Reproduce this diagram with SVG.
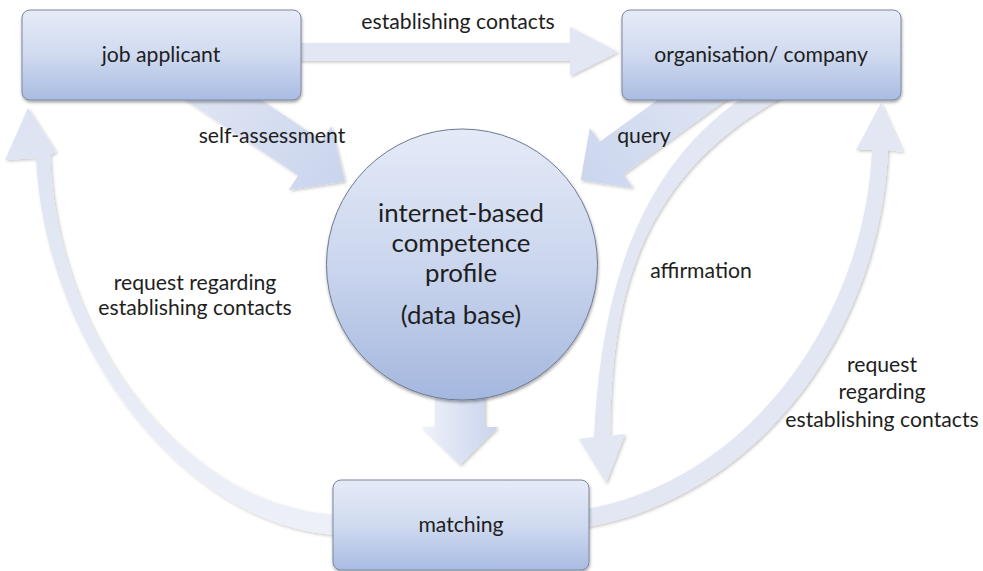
<svg xmlns="http://www.w3.org/2000/svg" width="983" height="571" viewBox="0 0 983 571">
  <defs>
    <style>
      .box { fill: url(#boxFill); stroke: #7b879e; stroke-width: 1; filter: url(#shadow); }
      .arrow { filter: url(#softShadow); }
      .plain { fill: #e2e7f3; }
      text { font-family: Lato, "Open Sans", "Liberation Sans", sans-serif; fill: #1e1e1e; text-anchor: middle; }
      .node { font-size: 21.2px; }
      .big { font-size: 25.8px; }
      .lbl { font-size: 21.2px; }
    </style>
    <linearGradient id="boxFill" x1="0" y1="0" x2="0" y2="1">
      <stop offset="0" stop-color="#e6ebf7"/>
      <stop offset="0.5" stop-color="#d0daf0"/>
      <stop offset="1" stop-color="#a9bce2"/>
    </linearGradient>
    <linearGradient id="circleFill" x1="0" y1="0" x2="0" y2="1">
      <stop offset="0" stop-color="#e4eaf7"/>
      <stop offset="0.5" stop-color="#cbd6ee"/>
      <stop offset="1" stop-color="#a4b7de"/>
    </linearGradient>
    <linearGradient id="selfFill" gradientUnits="userSpaceOnUse" x1="200" y1="80" x2="340" y2="180">
      <stop offset="0" stop-color="#dfe5f3"/>
      <stop offset="1" stop-color="#cad5ed"/>
    </linearGradient>
    <linearGradient id="queryFill" gradientUnits="userSpaceOnUse" x1="720" y1="80" x2="585" y2="180">
      <stop offset="0" stop-color="#dfe5f3"/>
      <stop offset="1" stop-color="#cbd6ee"/>
    </linearGradient>
    <linearGradient id="downFill" gradientUnits="userSpaceOnUse" x1="422" y1="0" x2="498" y2="0">
      <stop offset="0" stop-color="#eef2fa"/>
      <stop offset="1" stop-color="#c8d3ec"/>
    </linearGradient>
    <linearGradient id="leftArcFill" gradientUnits="userSpaceOnUse" x1="0" y1="110" x2="0" y2="535">
      <stop offset="0" stop-color="#dde3f2"/>
      <stop offset="1" stop-color="#edf0f8"/>
    </linearGradient>
    <filter id="shadow" x="-10%" y="-10%" width="125%" height="130%">
      <feDropShadow dx="0.5" dy="2" stdDeviation="1.5" flood-color="#000" flood-opacity="0.35"/>
    </filter>
    <filter id="softShadow" x="-10%" y="-10%" width="125%" height="125%">
      <feDropShadow dx="1.5" dy="1.5" stdDeviation="1.5" flood-color="#000" flood-opacity="0.22"/>
    </filter>
  </defs>

  <rect width="983" height="571" fill="#ffffff"/>

  <!-- block arrows between the nodes -->
  <g id="connectors">
    <!-- job applicant to organisation -->
    <path class="arrow plain" d="M295,43 L570,43 L570,27 L618,52 L570,76 L570,61 L295,61 Z"/>
    <!-- self-assessment -->
    <path class="arrow" fill="url(#selfFill)" d="M205.5,62.5 L321.7,140.6 L331.4,126 L344.9,181.4 L288.6,190 L298.3,175.4 L182.1,97.5 Z"/>
    <!-- query -->
    <path class="arrow" fill="url(#queryFill)" d="M713.2,59.8 L599.8,141.8 L589.8,128 L580.7,180.3 L633.2,188 L623.2,174.2 L736.6,92.2 Z"/>
    <!-- affirmation arc -->
    <path class="arrow plain" d="M745,96 C620,180 600,330 594,437 L579,439 L606,483 L625,434 L610,436 C612,330 620,185 785,96 Z"/>
    <!-- matching back to organisation -->
    <path class="arrow plain" d="M580,528 C760,500 880,330 888,150 L903,152 L881,103 L856,150 L872,150 C865,320 745,485 580,510 Z"/>
    <!-- matching back to job applicant -->
    <path class="arrow" fill="url(#leftArcFill)" d="M340,535 C190,530 45,350 36,158 L5,160 L28,108 L56,152 L50,155 C57,345 190,510 340,515 Z"/>
    <!-- database to matching -->
    <path class="arrow" fill="url(#downFill)" d="M435,390 L485,390 L485,427 L498,427 L460,465 L422,427 L435,427 Z"/>
  </g>

  <g id="job-applicant">
    <rect class="box" x="22" y="10" width="279" height="90" rx="8"/>
    <text class="node" x="161" y="62">job applicant</text>
  </g>

  <g id="organisation">
    <rect class="box" x="622" y="10" width="279" height="90" rx="8"/>
    <text class="node" x="761" y="62">organisation/ company</text>
  </g>

  <g id="database">
    <circle cx="462" cy="264.5" r="135.5" fill="url(#circleFill)" stroke="#6f7b92" stroke-width="1" filter="url(#shadow)"/>
    <text class="big" x="461" y="222">internet-based</text>
    <text class="big" x="461" y="252">competence</text>
    <text class="big" x="461" y="282">profile</text>
    <text class="big" x="461" y="324">(data base)</text>
  </g>

  <g id="matching">
    <rect class="box" x="333" y="480" width="256" height="90" rx="8"/>
    <text class="node" x="461" y="532">matching</text>
  </g>

  <g id="labels">
    <text class="lbl" x="458" y="29">establishing contacts</text>
    <text class="lbl" x="272" y="143">self-assessment</text>
    <text class="lbl" x="644" y="143">query</text>
    <text class="lbl" x="701" y="278">affirmation</text>
    <text class="lbl" x="195" y="290">request regarding</text>
    <text class="lbl" x="195" y="315">establishing contacts</text>
    <text class="lbl" x="882" y="372">request</text>
    <text class="lbl" x="882" y="399">regarding</text>
    <text class="lbl" x="882" y="427">establishing contacts</text>
  </g>
</svg>
